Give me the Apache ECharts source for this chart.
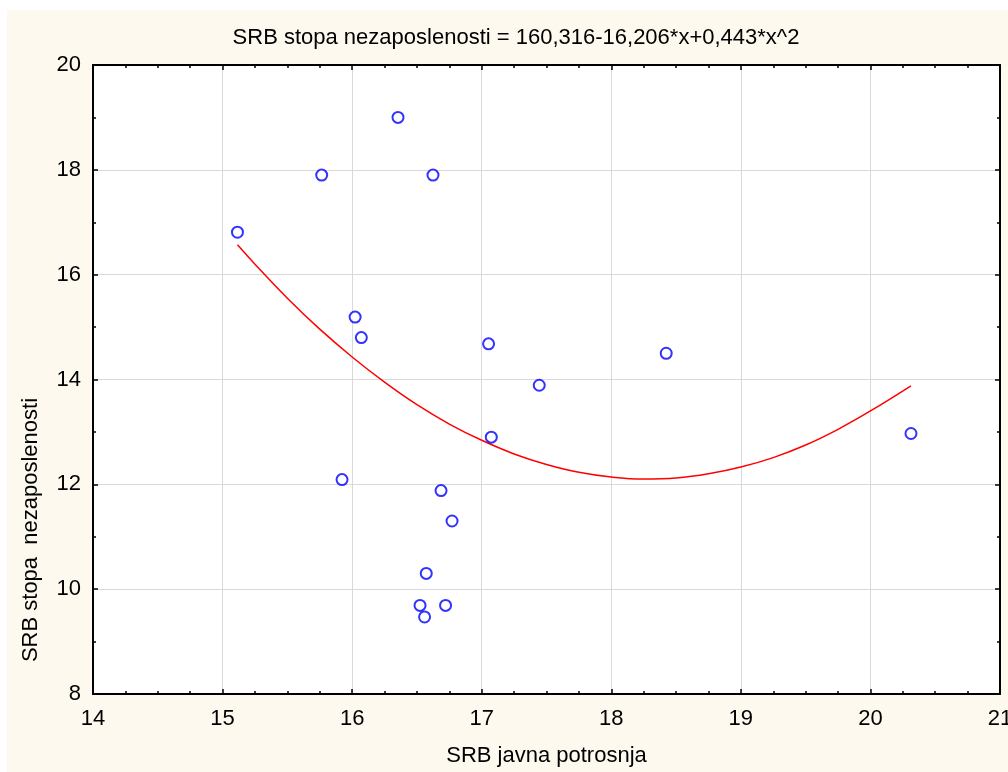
<!DOCTYPE html>
<html>
<head>
<meta charset="utf-8">
<script src="https://cdn.jsdelivr.net/npm/echarts@6/dist/echarts.min.js"></script>
<style>html,body{margin:0;padding:0;background:#fff}#c{width:1008px;height:772px}</style>
</head>
<body>
<div id="c"></div>
<script>
// Data
const titleText = 'SRB stopa nezaposlenosti = 160,316-16,206*x+0,443*x^2';
const xName = 'SRB javna potrosnja';
const yName = 'SRB stopa  nezaposlenosti';
const xTicks = [14, 15, 16, 17, 18, 19, 20, 21];
const yTicks = [8, 10, 12, 14, 16, 18, 20];

const javnaPotrosnja = [15.115, 15.765, 16.354, 16.624, 16.023, 16.071, 17.053, 17.444, 18.424,
  17.074, 20.313, 15.922, 16.686, 16.771, 16.572, 16.524, 16.721, 16.559];
const stopaNezaposlenosti = [16.81, 17.90, 19.00, 17.90, 15.19, 14.80, 14.68, 13.89, 14.50,
  12.90, 12.97, 12.09, 11.88, 11.30, 10.30, 9.69, 9.69, 9.47];

// fitted curve, values
const fitX = [15.115, 15.25, 15.5, 15.75, 16, 16.25, 16.5, 16.75, 17, 17.25, 17.5, 17.75,
  18, 18.25, 18.5, 18.75, 19, 19.25, 19.5, 19.75, 20, 20.313];
const fitY = [16.57, 16.20, 15.55, 14.96, 14.43, 13.95, 13.52, 13.15, 12.84, 12.58, 12.38, 12.23,
  12.14, 12.10, 12.12, 12.20, 12.33, 12.51, 12.75, 13.05, 13.40, 13.88];

const FONT = '"Liberation Sans", Arial, sans-serif';
const chart = echarts.init(document.getElementById('c'), null, {renderer: 'canvas'});

const scatterData = javnaPotrosnja.map((x, i) => [x, stopaNezaposlenosti[i]]);
const fitData = fitX.map((x, i) => [x, fitY[i]]);

const axisCommon = {
  axisLine: {show: true, onZero: false, lineStyle: {color: '#000', width: 2}},
  axisTick: {show: true, inside: true, length: 5, lineStyle: {color: '#000', width: 1.5}}
};

chart.setOption({
  backgroundColor: '#ffffff',
  animation: false,
  grid: {left: 93, top: 65, width: 907, height: 629, show: true, backgroundColor: '#ffffff', borderWidth: 0,
    containLabel: false, outerBoundsMode: 'none'},
  graphic: [
    {type: 'rect', z: -10, silent: true, shape: {x: 7, y: 10, width: 1001, height: 762}, style: {fill: '#fdf9ef'}},
    {type: 'text', x: 516, y: 38, style: {text: titleText, font: '22px ' + FONT, fill: '#000', align: 'center', verticalAlign: 'middle'}},
    {type: 'text', x: 31, y: 530, rotation: Math.PI / 2, style: {text: yName, font: '22px ' + FONT, fill: '#000', align: 'center', verticalAlign: 'middle'}}
  ],
  xAxis: [
    Object.assign({
      type: 'value', position: 'bottom', min: xTicks[0], max: xTicks[xTicks.length - 1], interval: 1,
      name: xName, nameLocation: 'middle', nameGap: 51,
      nameTextStyle: {fontFamily: FONT, fontSize: 22, color: '#000'},
      axisLabel: {fontFamily: FONT, fontSize: 22, color: '#000', margin: 14},
      splitLine: {show: true, lineStyle: {color: '#d9d9d9', width: 1}}
    }, axisCommon, {minorTick: {show: true, splitNumber: 4, length: 3, lineStyle: {color: '#000', width: 1.5}}}),
    Object.assign({
      type: 'value', position: 'top', min: xTicks[0], max: xTicks[xTicks.length - 1], interval: 1,
      axisLabel: {show: false}, splitLine: {show: false}
    }, axisCommon, {minorTick: {show: true, splitNumber: 4, length: 3, lineStyle: {color: '#000', width: 1.5}}})
  ],
  yAxis: [
    Object.assign({
      type: 'value', position: 'left', min: yTicks[0], max: yTicks[yTicks.length - 1], interval: 2,
      axisLabel: {fontFamily: FONT, fontSize: 22, color: '#000', margin: 12},
      splitLine: {show: true, lineStyle: {color: '#d9d9d9', width: 1}}
    }, axisCommon, {minorTick: {show: true, splitNumber: 2, length: 3, lineStyle: {color: '#000', width: 1.5}}}),
    Object.assign({
      type: 'value', position: 'right', min: yTicks[0], max: yTicks[yTicks.length - 1], interval: 2,
      axisLabel: {show: false}, splitLine: {show: false}
    }, axisCommon, {minorTick: {show: true, splitNumber: 2, length: 3, lineStyle: {color: '#000', width: 1.5}}})
  ],
  series: [
    {
      type: 'line', xAxisIndex: 0, yAxisIndex: 0, data: fitData, smooth: 0.4, showSymbol: false,
      lineStyle: {color: '#ff0000', width: 1.5}, z: 2
    },
    {
      type: 'scatter', xAxisIndex: 0, yAxisIndex: 0, data: scatterData,
      symbol: 'emptyCircle', symbolSize: 11,
      itemStyle: {color: '#0000ff', borderColor: '#0000ff', borderWidth: 2}, z: 3
    }
  ]
});
</script>
</body>
</html>
